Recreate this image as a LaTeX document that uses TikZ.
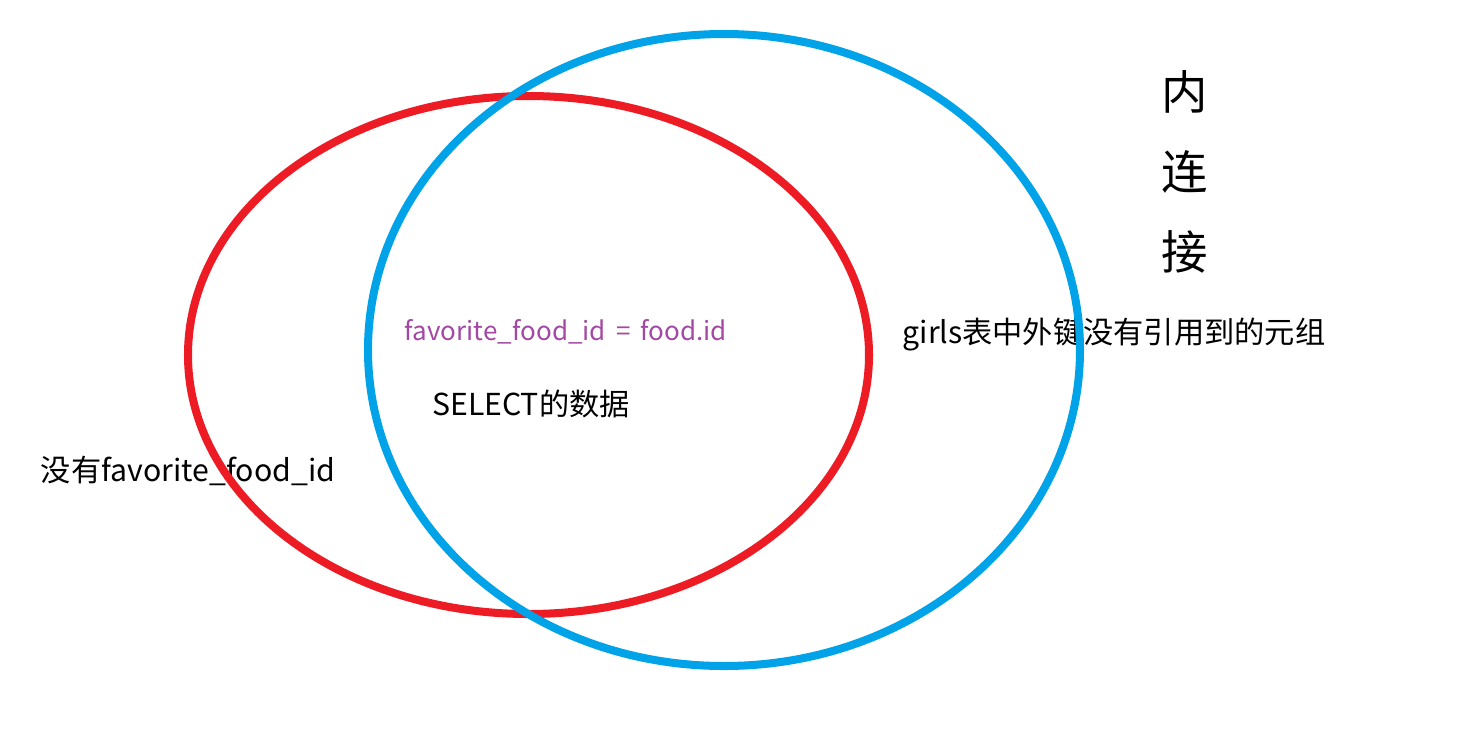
\documentclass[tikz,border=0pt]{standalone}
\usepackage{fontspec}
\usepackage{xcolor}
\usepackage{tikz}
\usetikzlibrary{positioning}
\newfontfamily\cjk{Noto Sans CJK SC}
\definecolor{setred}{HTML}{ED1C24}
\definecolor{setblue}{HTML}{00A2E8}
\definecolor{condpurple}{HTML}{A349A4}

\begin{document}
\begin{tikzpicture}[
    x=0.025cm, y=-0.025cm,
    lbl/.style={font=\cjk\fontsize{21.5}{24}\selectfont, inner sep=0pt},
    cond/.style={lbl, text=condpurple, font=\cjk\fontsize{18.5}{21}\selectfont},
    title/.style={font=\cjk\fontsize{33}{57}\selectfont, align=center, inner sep=0pt},
    setline/.style={line width=5.7pt}
]
\useasboundingbox (0,0) rectangle (1462,752);

\node[cond] (cond) at (566,332) {favorite\_food\_id\ \,=\ \,food.id};
\node[lbl] (sel) at (531,404) {SELECT的数据};
\node[lbl] (girls) at (1114,335) {girls表中外键没有引用到的元组};
\node[lbl] (nofav) at (188,471) {没有favorite\_food\_id};
\node[title] (join) at (1185,172) {内\\连\\接};

\draw[setline, setred] (528.5,355) ellipse [x radius=340.5, y radius=259];
\draw[setline, setblue] (724,350) ellipse [x radius=356, y radius=316];
\end{tikzpicture}
\end{document}
